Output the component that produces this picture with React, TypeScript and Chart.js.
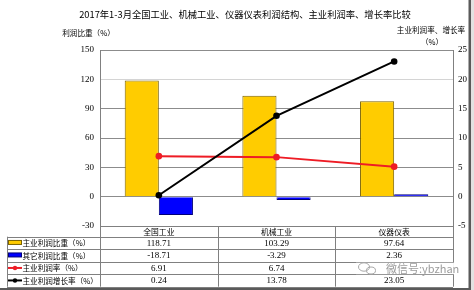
import React, { useEffect, useRef } from 'react';
import { Chart, registerables } from 'chart.js';

Chart.register(...registerables);

const title = '2017年1-3月全国工业、机械工业、仪器仪表利润结构、主业利润率、增长率比较';
const leftAxisTitle = '利润比重（%）';
const rightAxisTitle = ['主业利润率、增长率', '（%）'];
const categories = ['全国工业', '机械工业', '仪器仪表'];
const seriesNames = ['主业利润比重（%）', '其它利润比重（%）', '主业利润率（%）', '主业利润增长率（%）'];
const mainShare = [118.71, 103.29, 97.64];
const otherShare = [-18.71, -3.29, 2.36];
const mainMargin = [6.91, 6.74, 5.12];
const mainGrowth = [0.24, 13.78, 23.05];
const leftMin = -30, leftMax = 150, leftStep = 30;
const rightMin = -5, rightMax = 25, rightStep = 5;
const watermark = '微信号:ybzhan';

const CJK = '"Noto Sans CJK SC", "Noto Sans", sans-serif';
const NUM = '"Liberation Serif", "DejaVu Serif", serif';

const colors = {
  yellow: '#FFCC00',
  yellowBorder: '#7A6200',
  blue: '#0000FF',
  blueBorder: '#00007A',
  red: '#EE1C25',
  black: '#000000',
  grid: '#8C8C8C',
  gridLight: '#D4D4D4',
  axis: '#808080',
};

const tablePlugin = {
  id: 'tablePlugin',
  afterDraw(chart: any) {
    const { ctx, chartArea, scales } = chart;
    const xs = scales.x;
    const cw = xs.getPixelForValue(1) - xs.getPixelForValue(0);
    const left = chartArea.left;
    const right = chartArea.right;
    const top = chartArea.bottom;
    const headerH = 10.7;
    const rowH = 12.5;
    const legendLeft = 7;
    const rowsTop = top + headerH;
    const bottom = rowsTop + rowH * 4;

    ctx.save();
    // titles
    ctx.fillStyle = '#000';
    ctx.textBaseline = 'middle';
    ctx.textAlign = 'center';
    ctx.font = `9.3px ${CJK}`;
    ctx.fillText(title, 245, 14);
    ctx.font = `7.6px ${CJK}`;
    ctx.fillText(leftAxisTitle, 88.5, 33);
    ctx.fillText(rightAxisTitle[0], 431, 30.5);
    ctx.fillText(rightAxisTitle[1], 432, 42);

    // table lines
    ctx.strokeStyle = colors.axis;
    ctx.lineWidth = 1;
    const hline = (x1: number, x2: number, y: number) => {
      ctx.beginPath();
      ctx.moveTo(x1, Math.round(y) + 0.5);
      ctx.lineTo(x2, Math.round(y) + 0.5);
      ctx.stroke();
    };
    const vline = (x: number, y1: number, y2: number) => {
      ctx.beginPath();
      ctx.moveTo(Math.round(x) + 0.5, y1);
      ctx.lineTo(Math.round(x) + 0.5, y2);
      ctx.stroke();
    };
    hline(left, right, top);
    for (let r = 0; r <= 4; r++) hline(legendLeft, right, rowsTop + r * rowH);
    vline(legendLeft, rowsTop, bottom);
    for (let i = 0; i <= categories.length; i++) {
      const xb = xs.getPixelForValue(0) - cw / 2 + i * cw;
      vline(xb, top, bottom);
    }

    // header labels
    ctx.fillStyle = '#000';
    ctx.font = `7.8px ${CJK}`;
    ctx.textAlign = 'center';
    categories.forEach((c, i) => {
      ctx.fillText(c, xs.getPixelForValue(i), top + headerH / 2 + 0.5);
    });

    // values
    const series = [mainShare, otherShare, mainMargin, mainGrowth];
    ctx.font = `9px ${NUM}`;
    series.forEach((arr, r) => {
      arr.forEach((v, i) => {
        ctx.fillText(v.toFixed(2), xs.getPixelForValue(i), rowsTop + r * rowH + rowH / 2 + 0.5);
      });
    });

    // legend keys and names
    ctx.textAlign = 'left';
    ctx.font = `7.6px ${CJK}`;
    series.forEach((_, r) => {
      const cy = rowsTop + r * rowH + rowH / 2;
      if (r === 0 || r === 1) {
        ctx.fillStyle = r === 0 ? colors.yellow : colors.blue;
        ctx.strokeStyle = r === 0 ? colors.yellowBorder : colors.blueBorder;
        ctx.fillRect(8.5, cy - 2.5, 13, 4);
        ctx.strokeRect(8.5, cy - 2.5, 13, 4);
      } else {
        const col = r === 2 ? colors.red : colors.black;
        ctx.strokeStyle = col;
        ctx.fillStyle = col;
        ctx.lineWidth = 2;
        ctx.beginPath();
        ctx.moveTo(8, cy);
        ctx.lineTo(22, cy);
        ctx.stroke();
        ctx.beginPath();
        ctx.arc(15, cy, 2.2, 0, Math.PI * 2);
        ctx.fill();
        ctx.lineWidth = 1;
      }
      ctx.fillStyle = '#000';
      ctx.fillText(seriesNames[r], 22.5, cy + 0.5);
    });

    // watermark
    ctx.fillStyle = 'rgba(255,255,255,0.92)';
    ctx.fillRect(356, rowsTop + 2 * rowH + 1, 106, rowH - 1);
    ctx.strokeStyle = '#A8A8A8';
    ctx.lineWidth = 1;
    ctx.beginPath();
    ctx.ellipse(364, 267, 5.5, 4.2, 0, 0, Math.PI * 2);
    ctx.stroke();
    ctx.beginPath();
    ctx.ellipse(371, 270.5, 4.5, 3.5, 0, 0, Math.PI * 2);
    ctx.stroke();
    ctx.fillStyle = '#9C9C9C';
    ctx.font = `11px ${CJK}`;
    ctx.textAlign = 'left';
    ctx.fillText(watermark, 386, 268.5);

    // frame
    ctx.fillStyle = '#5A5A5A';
    ctx.fillRect(468.5, 0, 2.5, 290);
    ctx.fillStyle = '#E2E2E2';
    ctx.fillRect(471, 0, 3, 290);
    ctx.fillStyle = '#5A5A5A';
    ctx.fillRect(0, 288, 471, 2);
    ctx.restore();
  },
};

export default function App() {
  const ref = useRef<HTMLCanvasElement | null>(null);

  useEffect(() => {
    document.body.style.margin = '0';
    const canvas = ref.current;
    if (!canvas) return;
    const chart = new Chart(canvas, {
      type: 'bar',
      data: {
        labels: categories,
        datasets: [
          {
            type: 'line',
            label: seriesNames[3],
            data: mainGrowth,
            yAxisID: 'y1',
            borderColor: colors.black,
            backgroundColor: colors.black,
            borderWidth: 2,
            pointRadius: 3.3,
            pointBackgroundColor: colors.black,
            pointBorderWidth: 0,
            order: 0,
          },
          {
            type: 'line',
            label: seriesNames[2],
            data: mainMargin,
            yAxisID: 'y1',
            borderColor: colors.red,
            backgroundColor: colors.red,
            borderWidth: 2,
            pointRadius: 3.3,
            pointBackgroundColor: colors.red,
            pointBorderWidth: 0,
            order: 1,
          },
          {
            type: 'bar',
            label: seriesNames[0],
            data: mainShare,
            yAxisID: 'y',
            backgroundColor: colors.yellow,
            borderColor: colors.yellowBorder,
            borderWidth: 1,
            categoryPercentage: 0.58,
            barPercentage: 1,
            order: 2,
          },
          {
            type: 'bar',
            label: seriesNames[1],
            data: otherShare,
            yAxisID: 'y',
            backgroundColor: colors.blue,
            borderColor: colors.blueBorder,
            borderWidth: 1,
            categoryPercentage: 0.58,
            barPercentage: 1,
            order: 2,
          },
        ] as any,
      },
      options: {
        responsive: false,
        animation: false,
        layout: { padding: { top: 50, bottom: 64, left: 0, right: 0 } },
        plugins: {
          legend: { display: false },
          title: { display: false },
          tooltip: { enabled: false },
        },
        scales: {
          x: {
            display: false,
            offset: true,
          },
          y: {
            position: 'left',
            min: leftMin,
            max: leftMax,
            afterFit: (s: any) => { s.width = 100; },
            ticks: {
              stepSize: leftStep,
              color: '#000',
              padding: 6,
              font: { family: NUM, size: 9 },
            },
            grid: {
              drawTicks: false,
              color: (c: any) => (c.tick && c.tick.value === 120 ? colors.gridLight : colors.grid),
              lineWidth: 1,
            },
            border: { display: true, color: colors.axis, width: 1 },
          },
          y1: {
            position: 'right',
            min: rightMin,
            max: rightMax,
            afterFit: (s: any) => { s.width = 21; },
            ticks: {
              stepSize: rightStep,
              color: '#000',
              padding: 5,
              font: { family: NUM, size: 9 },
            },
            grid: { drawOnChartArea: false, drawTicks: false },
            border: { display: true, color: colors.axis, width: 1 },
          },
        },
      },
      plugins: [tablePlugin],
    });
    return () => chart.destroy();
  }, []);

  return (
    <div style={{ width: 474, height: 290, background: '#fff' }}>
      <canvas ref={ref} width={474} height={290} style={{ display: 'block' }} />
    </div>
  );
}
